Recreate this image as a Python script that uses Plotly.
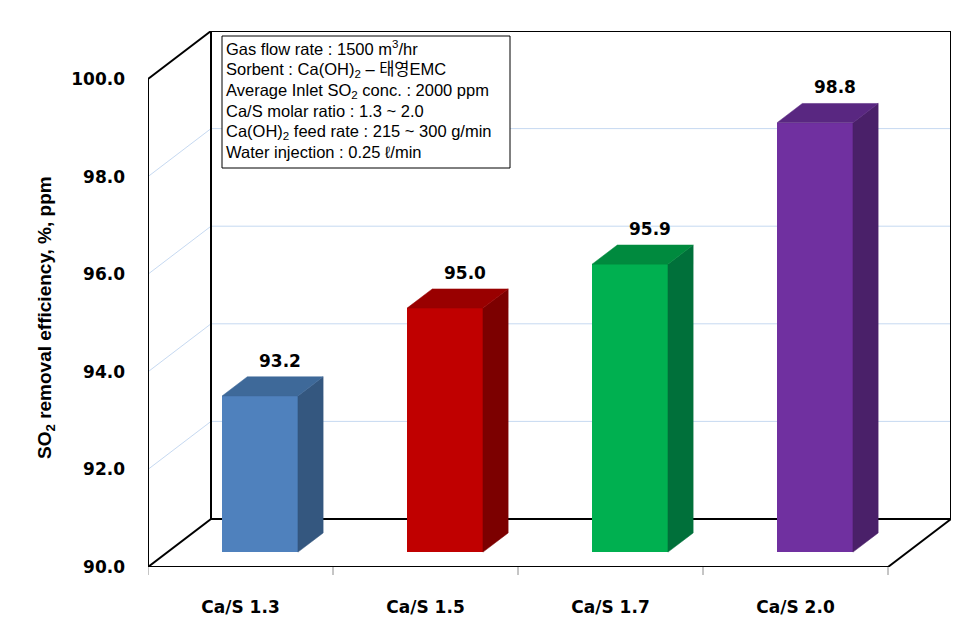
import plotly.graph_objects as go

# ---------------- data ----------------
categories = ["Ca/S 1.3", "Ca/S 1.5", "Ca/S 1.7", "Ca/S 2.0"]
efficiency = [93.2, 95.0, 95.9, 98.8]
value_labels = ["93.2", "95.0", "95.9", "98.8"]
y_ticks = [90, 92, 94, 96, 98, 100]
y_tick_labels = ["90.0", "92.0", "94.0", "96.0", "98.0", "100.0"]
grid_values = [92, 94, 96, 98]
info_lines = [
    "Gas flow rate : 1500 m<sup>3</sup>/hr",
    "Sorbent : Ca(OH)<sub>2</sub> – 태영EMC",
    "Average Inlet SO<sub>2</sub> conc. : 2000 ppm",
    "Ca/S molar ratio : 1.3 ~ 2.0",
    "Ca(OH)<sub>2</sub> feed rate : 215 ~ 300 g/min",
    "Water injection : 0.25 ℓ/min",
]
y_title = "SO<sub>2</sub> removal efficiency, %, ppm"

# ---------------- style ----------------
front_colors = ["#4F81BD", "#C00000", "#00B050", "#7030A0"]
top_colors = ["#3E6999", "#990000", "#008A3E", "#592781"]
side_colors = ["#34577F", "#7C0000", "#00703A", "#4A2069"]
grid_color = "#C6D9F1"
BOLD = "DejaVu Sans"

# ---------------- geometry (pixels) ----------------
W, H = 979, 641
PX_L, PX_B = 148, 567
CAT_PX = 185
UNIT_PX = 48.8
DEPTH_PX_X, DEPTH_PX_Y = 63, 48
y_min, y_max = 90, 100
n = len(categories)

DX = DEPTH_PX_X / CAT_PX
DY = DEPTH_PX_Y / UNIT_PX
PX_R = PX_L + n * CAT_PX + DEPTH_PX_X
PX_T = PX_B - (y_max - y_min) * UNIT_PX - DEPTH_PX_Y
x_lo, x_hi = -0.5, n - 0.5 + DX
y_lo, y_hi = y_min, y_max + DY

F0, F1 = 0.31, 0.71     # bar depth span (fraction of floor depth)
BAR_W = 0.41            # bar width in category units


def px2paper(px, py):
    return (px - PX_L) / (PX_R - PX_L), (PX_B - py) / (PX_B - PX_T)


fig = go.Figure()

# bars: front faces
centers = [i + F0 * DX for i in range(n)]
fig.add_trace(go.Bar(
    x=centers, y=[v - y_min for v in efficiency], base=y_min + F0 * DY,
    width=BAR_W, marker=dict(color=front_colors, line=dict(width=0)),
    hoverinfo="skip", showlegend=False))

# bars: side and top faces
d = F1 - F0
for i, v in enumerate(efficiency):
    c = centers[i]
    x0, x1 = c - BAR_W / 2, c + BAR_W / 2
    yb, yt = y_min + F0 * DY, v + F0 * DY
    side_x = [x1, x1 + d * DX, x1 + d * DX, x1, x1]
    side_y = [yb, yb + d * DY, yt + d * DY, yt, yb]
    top_x = [x0, x1, x1 + d * DX, x0 + d * DX, x0]
    top_y = [yt, yt, yt + d * DY, yt + d * DY, yt]
    fig.add_trace(go.Scatter(x=side_x, y=side_y, fill="toself", mode="lines",
                             fillcolor=side_colors[i],
                             line=dict(width=0.5, color=side_colors[i]),
                             hoverinfo="skip", showlegend=False))
    fig.add_trace(go.Scatter(x=top_x, y=top_y, fill="toself", mode="lines",
                             fillcolor=top_colors[i],
                             line=dict(width=0.5, color=top_colors[i]),
                             hoverinfo="skip", showlegend=False))

shapes = []
# gridlines on back wall and left side wall
for g in grid_values:
    shapes.append(dict(type="line", xref="x", yref="y", layer="below",
                       x0=x_lo + DX, x1=n - 0.5 + DX, y0=g + DY, y1=g + DY,
                       line=dict(color=grid_color, width=1)))
    shapes.append(dict(type="line", xref="x", yref="y", layer="below",
                       x0=x_lo, x1=x_lo + DX, y0=g, y1=g + DY,
                       line=dict(color=grid_color, width=1)))

# box edges
xr = n - 0.5
edges = [
    (x_lo, y_min, x_lo, y_max),
    (x_lo, y_max, x_lo + DX, y_max + DY),
    (x_lo + DX, y_max + DY, xr + DX, y_max + DY),
    (xr + DX, y_max + DY, xr + DX, y_min + DY),
    (x_lo + DX, y_max + DY, x_lo + DX, y_min + DY),
    (x_lo + DX, y_min + DY, xr + DX, y_min + DY),
    (x_lo, y_min, x_lo + DX, y_min + DY),
    (x_lo, y_min, xr, y_min),
    (xr, y_min, xr + DX, y_min + DY),
]
for (a, b, c_, d_) in edges:
    shapes.append(dict(type="line", xref="x", yref="y", layer="below",
                       x0=a, y0=b, x1=c_, y1=d_,
                       line=dict(color="black", width=2)))

# category boundary ticks
for k in range(n + 1):
    shapes.append(dict(type="line", xref="x", yref="paper", layer="below",
                       x0=k - 0.5, x1=k - 0.5, y0=0, y1=-8 / (PX_B - PX_T),
                       line=dict(color="#8C8C8C", width=1)))

# info box
bx0, by0 = px2paper(222, 168)
bx1, by1 = px2paper(510, 36)
shapes.append(dict(type="rect", xref="paper", yref="paper", layer="above",
                   x0=bx0, y0=by0, x1=bx1, y1=by1, fillcolor="white",
                   line=dict(color="black", width=1)))

annotations = []
line_px = [48, 70, 91, 111, 132, 152]
for txt, py in zip(info_lines, line_px):
    ax, ay = px2paper(224, py)
    annotations.append(dict(text=txt, xref="paper", yref="paper", x=ax, y=ay,
                            xanchor="left", yanchor="middle", showarrow=False,
                            font=dict(family="Liberation Sans, Arial, Noto Sans CJK KR",
                                      size=16.5, color="black")))

# value labels
for i, v in enumerate(efficiency):
    annotations.append(dict(text="<b>%s</b>" % value_labels[i], xref="x", yref="y",
                            x=centers[i] + d * DX * 0.8, y=v + F1 * DY,
                            xanchor="center", yanchor="bottom", yshift=4,
                            showarrow=False,
                            font=dict(family=BOLD, size=17, color="black")))

# y title
tx, ty = px2paper(46, 318)
annotations.append(dict(text="<b>%s</b>" % y_title, xref="paper", yref="paper",
                        x=tx, y=ty, xanchor="center", yanchor="middle",
                        textangle=-90, showarrow=False,
                        font=dict(family="Liberation Sans, Arial", size=19, color="black")))

fig.update_layout(
    width=W, height=H,
    margin=dict(l=PX_L, r=W - PX_R, t=PX_T, b=H - PX_B, pad=0),
    paper_bgcolor="white", plot_bgcolor="white",
    shapes=shapes, annotations=annotations, showlegend=False,
    bargap=0,
    xaxis=dict(range=[x_lo, x_hi], tickvals=list(range(n)),
               ticktext=["<b>%s</b>" % c for c in categories],
               ticks="", showgrid=False, zeroline=False, showline=False,
               ticklabelstandoff=28, fixedrange=True,
               tickfont=dict(family=BOLD, size=17, color="black")),
    yaxis=dict(range=[y_lo, y_hi], tickvals=y_ticks,
               ticktext=["<b>%s</b>" % t for t in y_tick_labels],
               ticks="", showgrid=False, zeroline=False, showline=False,
               ticklabelstandoff=22, fixedrange=True,
               tickfont=dict(family=BOLD, size=17, color="black")),
)

fig.write_html("out.html", config={"displayModeBar": False},
               post_script="document.body.style.margin='0';document.body.style.padding='0';")
